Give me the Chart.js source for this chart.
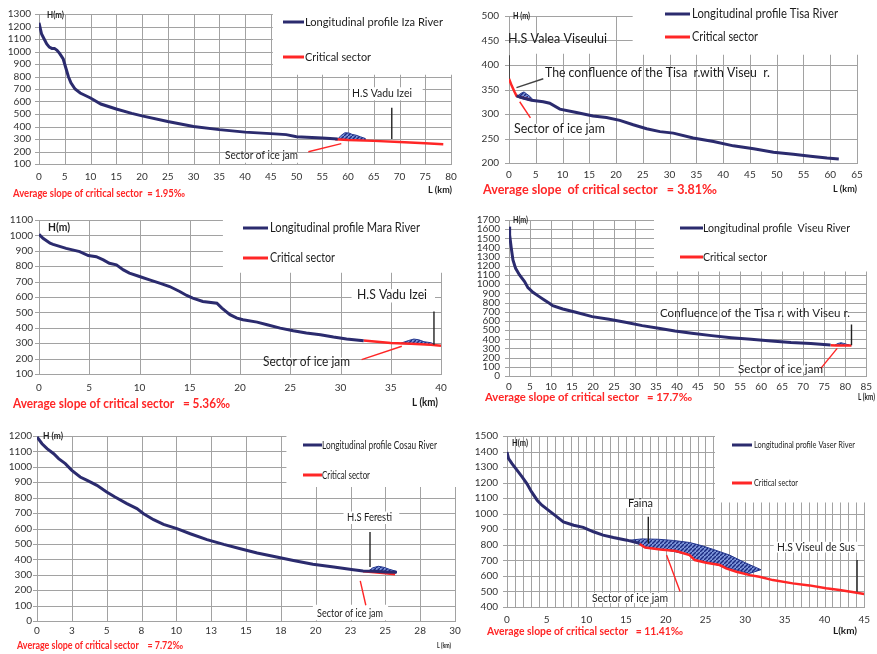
<!DOCTYPE html>
<html>
<head>
<meta charset="utf-8">
<script src="https://cdn.jsdelivr.net/npm/chart.js@4.4.1/dist/chart.umd.min.js"></script>
<style>
    html, body { margin: 0; padding: 0; background: #fff; }
    #wrap { position: relative; width: 877px; height: 654px; overflow: hidden; }
    #wrap canvas { position: absolute; left: 0; top: 0; }
</style>
</head>
<body>
<div id="wrap"></div>
<script>
// ---- Iza River ----
const izaXTicks = [0, 80, 5];
const izaYTicks = [100, 1300, 100];
const izaKm = [0, 0.5, 1, 1.5, 2, 2.5, 3, 3.5, 4, 4.7, 5.2, 5.7, 6.2, 7, 8, 9, 10, 12, 15, 18, 20, 25, 30, 35, 40, 45, 48, 50, 55, 58];
const izaH = [1230, 1140, 1100, 1060, 1035, 1025, 1025, 1010, 985, 940, 870, 800, 750, 700, 668, 648, 628, 580, 540, 505, 485, 440, 400, 375, 355, 343, 335, 318, 308, 300];
const izaCritKm = [57.5, 60, 65, 70, 75, 78.5];
const izaCritH = [298, 292, 285, 276, 266, 258];
const izaJamKm = [58, 58.7, 59.4, 60.2, 60.8, 61.6, 62.4, 63.3, 63.3, 58];
const izaJamH = [300, 330, 350, 348, 337, 330, 318, 305, 290, 297];
const izaStation = [[68.5, 300], [68.5, 550]];
const izaPointer = [[52.3, 198], [58.7, 263]];

// ---- Tisa River ----
const tisaXTicks = [0, 65, 5];
const tisaYTicks = [200, 500, 50];
const tisaKm = [1.4, 2.5, 4.2, 6.4, 7.6, 9.5, 12.6, 15.7, 18.2, 20.7, 23.2, 25.7, 28.2, 30.7, 34.4, 38.2, 41.9, 45.7, 49.4, 53.1, 56.3, 59.4, 61.6];
const tisaH = [337, 333, 328, 325, 322, 310, 303, 296, 293, 287, 278, 270, 264, 261, 251, 244, 235, 229, 222, 218, 214, 210, 208];
const tisaCritKm = [0, 0.5, 1, 1.4, 2.5, 4];
const tisaCritH = [372, 358, 346, 337, 333, 329];
const tisaJamKm = [1.6, 2.2, 2.8, 3.3, 3.9, 4.3, 4.3, 1.6];
const tisaJamH = [337, 342, 345, 341, 336, 331, 327, 334];
const tisaStation = [[0, 372], [0, 420]];
const tisaConfluence = [[1.4, 354], [6.4, 372]];
const tisaPointer = [[2, 325], [4, 292]];

// ---- Mara River ----
const maraXTicks = [0, 40, 5];
const maraYTicks = [100, 1100, 100];
const maraKm = [0, 0.4, 1.1, 1.4, 2.7, 4.05, 4.9, 5.7, 6.4, 7, 7.7, 8.4, 9, 10, 11, 12, 13, 14, 14.7, 15.3, 16.3, 17.7, 18.2, 19, 19.7, 20.3, 21.7, 22.7, 24, 25.3, 26.6, 28, 29.3, 30.6, 32.3];
const maraH = [1007, 981, 949, 942, 916, 895, 869, 862, 841, 819, 809, 776, 755, 733, 711, 690, 668, 636, 610, 593, 571, 560, 528, 485, 463, 452, 437, 420, 398, 381, 366, 355, 340, 327, 316];
const maraCritKm = [32.3, 35, 37, 39, 40];
const maraCritH = [318, 302, 297, 290, 283];
const maraJamKm = [36, 36.8, 37.3, 37.8, 38.3, 39, 39.3, 39.3, 36];
const maraJamH = [300, 318, 327, 322, 310, 303, 295, 289, 298];
const maraStation = [[39.3, 290], [39.3, 506]];
const maraPointer = [[32.1, 193], [36.1, 280]];

// ---- Viseu River ----
const viseuXTicks = [0, 85, 5];
const viseuYTicks = [0, 1700, 100];
const viseuKm = [0, 0.15, 0.55, 0.94, 1.57, 2.5, 3.7, 4.5, 5.7, 7.2, 8.4, 9.6, 10.4, 12.8, 15.9, 19.8, 23.8, 27.7, 31.7, 35.6, 39.5, 43.5, 48.2, 52.9, 57.6, 62.4, 67.1, 71.8, 76.5];
const viseuH = [1627, 1537, 1391, 1264, 1173, 1101, 1029, 963, 912, 865, 828, 792, 767, 730, 694, 647, 618, 586, 549, 520, 491, 466, 440, 418, 400, 382, 364, 353, 338];
const viseuCritKm = [76.5, 78, 80, 81.5];
const viseuCritH = [334, 333, 332, 332];
const viseuJamKm = [77.6, 78.3, 79, 79.6, 80.3, 81, 81, 77.6];
const viseuJamH = [338, 355, 362, 356, 346, 338, 334, 334];
const viseuStation = [[81.5, 335], [81.5, 560]];
const viseuPointer = [[74.2, 83], [78.1, 301]];

// ---- Cosau River ----
const cosauXTicks = [0, 30, 2.5];
const cosauXLabels = ['0', '3', '5', '8', '10', '13', '15', '18', '20', '23', '25', '28', '30'];
const cosauYTicks = [0, 1200, 100];
const cosauKm = [0, 0.36, 0.72, 1.2, 1.55, 2.03, 2.5, 3.1, 3.6, 4.3, 5, 5.6, 6.45, 7.17, 7.65, 8.37, 9.08, 10.04, 11, 12.2, 13.4, 14.6, 15.8, 17.2, 18.4, 19.8, 21.3, 22.7, 23.4, 24.2, 25, 25.8];
const cosauH = [1194, 1150, 1118, 1085, 1053, 1021, 977, 934, 912, 880, 837, 804, 761, 729, 696, 657, 627, 599, 566, 528, 497, 469, 441, 415, 393, 368, 350, 333, 324, 322, 318, 316];
const cosauCritKm = [23.4, 24.2, 25, 25.7];
const cosauCritH = [322, 316, 310, 303];
const cosauJamKm = [23.8, 24.1, 24.5, 24.9, 25.3, 25.8, 25.8, 23.8];
const cosauJamH = [325, 345, 355, 348, 335, 322, 312, 320];
const cosauStation = [[23.9, 350], [23.9, 577]];
const cosauPointer = [[23.2, 260], [23.6, 102]];

// ---- Vaser River ----
const vaserXTicks = [0, 45, 1];
const vaserYTicks = [400, 1500, 100];
const vaserKm = [0, 0.2, 0.63, 1.26, 1.9, 2.5, 3.1, 3.8, 4.4, 5.2, 6.3, 7.1, 8.4, 9.6, 10.9, 12.1, 13.4, 15.1, 16.7];
const vaserH = [1397, 1354, 1322, 1280, 1237, 1194, 1140, 1087, 1055, 1023, 980, 948, 926, 912, 884, 862, 847, 830, 809];
const vaserCritKm = [16.7, 17.4, 19.3, 21.3, 23, 23.65, 25.1, 26.8, 27.6, 28.9, 30.6, 31.8, 33.5, 36, 38.1, 40.2, 41.9, 43.5, 45];
const vaserCritH = [805, 783, 770, 760, 734, 702, 685, 670, 648, 627, 605, 595, 573, 552, 539, 520, 509, 496, 483];
const vaserJamKm = [15.5, 17, 19, 21, 23, 24.5, 26, 28, 30, 32, 30.5, 28, 25, 23.6, 23, 20, 17.5, 16.5];
const vaserJamH = [830, 838, 836, 828, 815, 795, 770, 735, 685, 640, 615, 650, 690, 705, 735, 768, 782, 808];
const vaserFaina = [[17.8, 809], [17.8, 980]];
const vaserStation = [[44.1, 498], [44.1, 702]];
const vaserPointer = [[20.1, 734], [21.8, 499]];

// ---- styles ----
const FONT = "Lato, 'Liberation Sans', sans-serif";
const BLUE = '#2b2b6e';
const RED = '#ff2626';
const GRID = '#a2a2a2';
const INK = '#1c1c1c';
const TICK = '#333';
const Y_W = 35;
const X_H = 24;

const pts = (xs, ys) => xs.map((x, i) => ({ x: x, y: ys[i] }));
const pairPts = (pp) => pp.map(p => ({ x: p[0], y: p[1] }));

function hatchPattern() {
    const c = document.createElement('canvas');
    c.width = 4; c.height = 4;
    const g = c.getContext('2d');
    g.fillStyle = '#7b93d8';
    g.fillRect(0, 0, 4, 4);
    g.strokeStyle = '#1a2a80';
    g.lineWidth = 1.4;
    g.beginPath();
    g.moveTo(-1, 5); g.lineTo(5, -1);
    g.stroke();
    return g.createPattern(c, 'repeat');
}
const HATCH = hatchPattern();

const panels = [
    {
        plot: [39, 10, 451, 164], xt: izaXTicks, yt: izaYTicks, yPad: 8, xPad: 7,
        profile: pts(izaKm, izaH), critical: pts(izaCritKm, izaCritH), jam: pts(izaJamKm, izaJamH),
        marks: [{ p: izaStation, c: '#222' }, { p: izaPointer, c: RED }],
        holes: [
            { x: [45.4, 90], y: [815, 1400] },
            { x: [60.4, 74.5], y: [610, 715] },
            { x: [36, 51], y: [110, 195], dir: 'v' }
        ],
        legend: { x0: 283, x1: 304, y1: 22, y2: 57 },
        texts: [
            { t: 'H(m)', x: 47, y: 15, w: 17, size: 9, bold: true },
            { t: 'Longitudinal profile Iza River', x: 305, y: 22, w: 138, size: 12 },
            { t: 'Critical sector', x: 305, y: 57, w: 66, size: 12 },
            { t: 'H.S Vadu Izei', x: 352, y: 93, w: 60, size: 12 },
            { t: 'Sector of ice jam', x: 225, y: 155, w: 73, size: 12 },
            { t: 'Average slope of critical sector  = 1.95\u2030', x: 13, y: 193, w: 172, size: 12, bold: true, color: RED },
            { t: 'L (km)', x: 428, y: 190, w: 24, size: 10, bold: true }
        ]
    },
    {
        plot: [509, 7, 857, 163], xt: tisaXTicks, yt: tisaYTicks, yPad: 10, xPad: 6,
        profile: pts(tisaKm, tisaH), critical: pts(tisaCritKm, tisaCritH), jam: pts(tisaJamKm, tisaJamH),
        marks: [{ p: tisaStation, c: '#222' }, { p: tisaConfluence, c: '#444' }, { p: tisaPointer, c: RED }],
        holes: [
            { x: [23.1, 70], y: [421, 520] },
            { x: [6, 19.6], y: [447, 520], dir: 'v' },
            { x: [0.2, 18.6], y: [423, 447] },
            { x: [1, 18.5], y: [252, 280], dir: 'v' }
        ],
        legend: { x0: 665, x1: 690, y1: 14, y2: 37 },
        texts: [
            { t: 'H (m)', x: 513, y: 16, w: 17, size: 9, bold: true },
            { t: 'H.S Valea Viseului', x: 508, y: 39, w: 99, size: 13 },
            { t: 'Longitudinal profile Tisa River', x: 692, y: 14, w: 146, size: 13 },
            { t: 'Critical sector', x: 692, y: 37, w: 66, size: 13 },
            { t: 'The confluence of the Tisa  r.with Viseu  r.', x: 545, y: 73, w: 225, size: 13 },
            { t: 'Sector of ice jam', x: 514, y: 129, w: 91, size: 13 },
            { t: 'Average slope  of critical sector   = 3.81\u2030', x: 483, y: 189, w: 234, size: 14, bold: true, color: RED },
            { t: 'L (km)', x: 833, y: 189, w: 24, size: 10, bold: true }
        ]
    },
    {
        plot: [39, 220, 441, 374], xt: maraXTicks, yt: maraYTicks, yPad: 6, xPad: 8,
        profile: pts(maraKm, maraH), critical: pts(maraCritKm, maraCritH), jam: pts(maraJamKm, maraJamH),
        marks: [{ p: maraStation, c: '#222' }, { p: maraPointer, c: RED }],
        holes: [
            { x: [18.3, 45], y: [757, 1200] },
            { x: [31.1, 39.4], y: [565, 650] },
            { x: [22, 31.5], y: [160, 205], dir: 'v' }
        ],
        legend: { x0: 243, x1: 268, y1: 228, y2: 258 },
        texts: [
            { t: 'H(m)', x: 48, y: 227, w: 22, size: 11, bold: true },
            { t: 'Longitudinal profile Mara River', x: 270, y: 228, w: 150, size: 13 },
            { t: 'Critical sector', x: 270, y: 258, w: 65, size: 13 },
            { t: 'H.S Vadu Izei', x: 357, y: 295, w: 70, size: 13 },
            { t: 'Sector of ice jam', x: 263, y: 362, w: 87, size: 13 },
            { t: 'Average slope of critical sector   = 5.36\u2030', x: 13, y: 404, w: 217, size: 13, bold: true, color: RED },
            { t: 'L (km)', x: 412, y: 402, w: 26, size: 11, bold: true }
        ]
    },
    {
        plot: [509, 220, 870, 376], xt: viseuXTicks, yt: viseuYTicks, yPad: 9, xPad: 5,
        profile: pts(viseuKm, viseuH), critical: pts(viseuCritKm, viseuCritH), jam: pts(viseuJamKm, viseuJamH),
        marks: [{ p: viseuStation, c: '#222' }, { p: viseuPointer, c: RED }],
        holes: [
            { x: [34.5, 90], y: [1140, 1800] },
            { x: [35.5, 80.5], y: [650, 730], dir: 'h' },
            { x: [53.5, 74.5], y: [40, 115] }
        ],
        legend: { x0: 680, x1: 703, y1: 228, y2: 257 },
        texts: [
            { t: 'H(m)', x: 513, y: 220, w: 15, size: 9, bold: true },
            { t: 'Longitudinal profile  Viseu River', x: 703, y: 228, w: 147, size: 12 },
            { t: 'Critical sector', x: 703, y: 257, w: 64, size: 12 },
            { t: 'Confluence of the Tisa r. with Viseu r.', x: 660, y: 313, w: 190, size: 12 },
            { t: 'Sector of ice jam', x: 738, y: 369, w: 85, size: 12 },
            { t: 'Average slope of critical sector   = 17.7\u2030', x: 485, y: 397, w: 207, size: 12, bold: true, color: RED },
            { t: 'L (km)', x: 858, y: 397, w: 17, size: 9, bold: true }
        ]
    },
    {
        plot: [37, 436, 455, 621], xt: cosauXTicks, yt: cosauYTicks, yPad: 5, xPad: 4,
        xLabels: cosauXLabels,
        profile: pts(cosauKm, cosauH), critical: pts(cosauCritKm, cosauCritH), jam: pts(cosauJamKm, cosauJamH),
        marks: [{ p: cosauStation, c: '#222' }, { p: cosauPointer, c: RED }],
        holes: [
            { x: [17.9, 31], y: [870, 1300] },
            { x: [22, 26], y: [630, 710] },
            { x: [19.8, 25.2], y: [5, 105] }
        ],
        legend: { x0: 303, x1: 322, y1: 445, y2: 475 },
        texts: [
            { t: 'H (m)', x: 43, y: 436, w: 20, size: 9, bold: true },
            { t: 'Longitudinal profile Cosau River', x: 322, y: 445, w: 115, size: 11 },
            { t: 'Critical sector', x: 322, y: 475, w: 48, size: 11 },
            { t: 'H.S Feresti', x: 347, y: 517, w: 45, size: 12 },
            { t: 'Sector of ice jam', x: 317, y: 613, w: 66, size: 12 },
            { t: 'Average slope of critical sector    = 7.72\u2030', x: 17, y: 645, w: 166, size: 11, bold: true, color: RED },
            { t: 'L (km)', x: 437, y: 645, w: 14, size: 8, bold: true }
        ]
    },
    {
        plot: [507, 436, 865, 607], xt: vaserXTicks, yt: vaserYTicks, yPad: 9, xPad: 7,
        xEvery: 5,
        profile: pts(vaserKm, vaserH), critical: pts(vaserCritKm, vaserCritH), jam: pts(vaserJamKm, vaserJamH),
        marks: [{ p: vaserFaina, c: '#222' }, { p: vaserStation, c: '#222' }, { p: vaserPointer, c: RED }],
        holes: [
            { x: [26.2, 47], y: [1072, 1600] },
            { x: [14.9, 18.7], y: [1035, 1095] },
            { x: [33.6, 44.2], y: [750, 820] },
            { x: [10.4, 20.5], y: [425, 490] }
        ],
        legend: { x0: 732, x1: 752, y1: 445, y2: 483 },
        texts: [
            { t: 'H(m)', x: 512, y: 443, w: 16, size: 9, bold: true },
            { t: 'Longitudinal profile Vaser River', x: 754, y: 445, w: 101, size: 10 },
            { t: 'Critical sector', x: 754, y: 483, w: 44, size: 10 },
            { t: 'Faina', x: 628, y: 503, w: 25, size: 12 },
            { t: 'H.S Viseul de Sus', x: 777, y: 547, w: 78, size: 12 },
            { t: 'Sector of ice jam', x: 592, y: 598, w: 76, size: 12 },
            { t: 'Average slope of critical sector   = 11.41\u2030', x: 487, y: 631, w: 196, size: 12, bold: true, color: RED },
            { t: 'L(km)', x: 833, y: 631, w: 24, size: 10, bold: true }
        ]
    }
];

function drawText(ctx, s) {
    ctx.save();
    ctx.font = (s.bold ? 'bold ' : '') + s.size + 'px ' + FONT;
    ctx.fillStyle = s.color || INK;
    ctx.textBaseline = 'middle';
    const m = ctx.measureText(s.t).width;
    const k = s.w ? Math.max(0.6, Math.min(1.6, s.w / m)) : 1;
    ctx.translate(s.x, s.y);
    ctx.scale(k, 1);
    ctx.fillText(s.t, 0, 0);
    ctx.restore();
}

function drawGrid(chart, panel) {
    const { ctx, chartArea: a, scales: { x, y } } = chart;
    const rectOf = (h) => {
        const x0 = x.getPixelForValue(h.x[0]), x1 = x.getPixelForValue(h.x[1]);
        const y0 = y.getPixelForValue(h.y[0]), y1 = y.getPixelForValue(h.y[1]);
        return [Math.min(x0, x1), Math.min(y0, y1), Math.abs(x1 - x0), Math.abs(y1 - y0)];
    };
    const pass = (dir, draw) => {
        ctx.save();
        ctx.beginPath();
        ctx.rect(0, 0, chart.width, chart.height);
        panel.holes.filter(h => !h.dir || h.dir === dir).forEach(h => ctx.rect(...rectOf(h)));
        ctx.clip('evenodd');
        ctx.strokeStyle = GRID;
        ctx.lineWidth = 1;
        ctx.beginPath();
        draw();
        ctx.stroke();
        ctx.restore();
    };
    pass('v', () => x.ticks.forEach(t => {
        const px = Math.round(x.getPixelForValue(t.value)) + 0.5;
        ctx.moveTo(px, a.top);
        ctx.lineTo(px, a.bottom + 1);
    }));
    pass('h', () => y.ticks.forEach(t => {
        const py = Math.round(y.getPixelForValue(t.value)) + 0.5;
        ctx.moveTo(a.left - 4, py);
        ctx.lineTo(a.right, py);
    }));
}

function drawDecor(chart, panel) {
    const ctx = chart.ctx;
    const lg = panel.legend;
    ctx.save();
    ctx.lineWidth = 3;
    ctx.strokeStyle = BLUE;
    ctx.beginPath(); ctx.moveTo(lg.x0, lg.y1); ctx.lineTo(lg.x1, lg.y1); ctx.stroke();
    ctx.strokeStyle = RED;
    ctx.beginPath(); ctx.moveTo(lg.x0, lg.y2); ctx.lineTo(lg.x1, lg.y2); ctx.stroke();
    ctx.restore();
    panel.texts.forEach(s => drawText(ctx, s));
}

function makePanel(panel, idx) {
    const canvas = document.createElement('canvas');
    canvas.width = 877;
    canvas.height = 654;
    document.getElementById('wrap').appendChild(canvas);

    const [pl, pt, pr, pb] = panel.plot;
    const tickFont = { family: FONT, size: 10 };

    const datasets = panel.marks.map(m => ({
        data: pairPts(m.p), borderColor: m.c, borderWidth: 1.4,
        pointRadius: 0, fill: false, tension: 0
    }));
    datasets.push({
        data: panel.profile, borderColor: BLUE, borderWidth: 3,
        pointRadius: 0, fill: false, tension: 0
    });
    datasets.push({
        data: panel.critical, borderColor: RED, borderWidth: 2.5,
        pointRadius: 0, fill: false, tension: 0
    });
    datasets.push({
        data: panel.jam, borderColor: '#24378f', borderWidth: 1,
        backgroundColor: HATCH, pointRadius: 0, fill: 'shape', tension: 0
    });

    const xCallback = (value, i) => {
        if (panel.xLabels) return panel.xLabels[i];
        if (panel.xEvery) return value % panel.xEvery === 0 ? String(value) : '';
        return String(value);
    };

    new Chart(canvas, {
        type: 'line',
        data: { datasets: datasets },
        options: {
            responsive: false,
            animation: false,
            events: [],
            devicePixelRatio: 1,
            layout: {
                padding: { left: pl - Y_W, top: pt, right: 877 - pr, bottom: 654 - pb - X_H }
            },
            plugins: { legend: { display: false }, tooltip: { enabled: false } },
            scales: {
                x: {
                    type: 'linear',
                    min: panel.xt[0], max: panel.xt[1],
                    grid: { display: false, drawTicks: false },
                    border: { display: false },
                    ticks: {
                        stepSize: panel.xt[2], autoSkip: false, maxRotation: 0,
                        padding: panel.xPad, font: tickFont, color: TICK,
                        callback: xCallback
                    },
                    afterFit: (s) => { s.height = X_H; }
                },
                y: {
                    type: 'linear',
                    min: panel.yt[0], max: panel.yt[1],
                    grid: { display: false, drawTicks: false },
                    border: { display: false },
                    ticks: {
                        stepSize: panel.yt[2], autoSkip: false,
                        padding: panel.yPad, font: tickFont, color: TICK,
                        callback: (value) => String(value)
                    },
                    afterFit: (s) => { s.width = Y_W; }
                }
            }
        },
        plugins: [{
            id: 'decor' + idx,
            beforeDatasetsDraw: (chart) => drawGrid(chart, panel),
            afterDatasetsDraw: (chart) => drawDecor(chart, panel)
        }]
    });
}

panels.forEach(makePanel);
</script>
</body>
</html>
